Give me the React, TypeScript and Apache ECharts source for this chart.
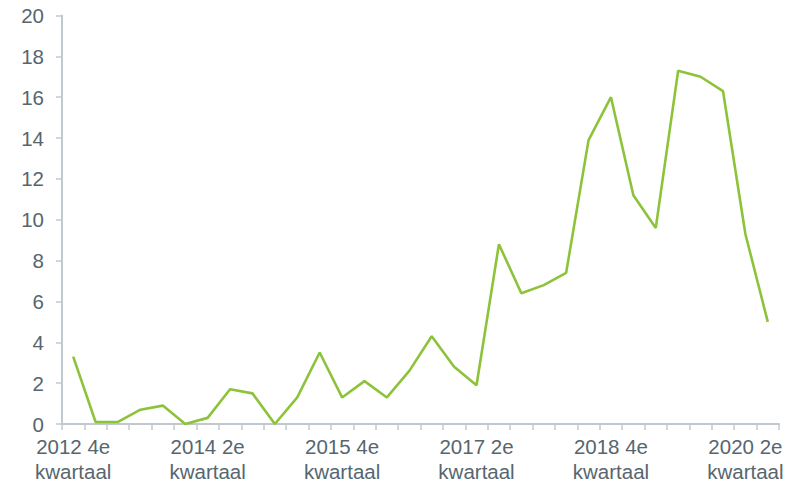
import React, { useEffect, useRef } from "react";
import * as echarts from "echarts";

const quarters: string[] = [
  "2012 4e kwartaal",
  "2013 1e kwartaal", "2013 2e kwartaal", "2013 3e kwartaal", "2013 4e kwartaal",
  "2014 1e kwartaal", "2014 2e kwartaal", "2014 3e kwartaal", "2014 4e kwartaal",
  "2015 1e kwartaal", "2015 2e kwartaal", "2015 3e kwartaal", "2015 4e kwartaal",
  "2016 1e kwartaal", "2016 2e kwartaal", "2016 3e kwartaal", "2016 4e kwartaal",
  "2017 1e kwartaal", "2017 2e kwartaal", "2017 3e kwartaal", "2017 4e kwartaal",
  "2018 1e kwartaal", "2018 2e kwartaal", "2018 3e kwartaal", "2018 4e kwartaal",
  "2019 1e kwartaal", "2019 2e kwartaal", "2019 3e kwartaal", "2019 4e kwartaal",
  "2020 1e kwartaal", "2020 2e kwartaal", "2020 3e kwartaal",
];

const values: number[] = [
  3.3, 0.1, 0.1, 0.7, 0.9, 0.0, 0.3, 1.7, 1.5, 0.0, 1.3, 3.5, 1.3, 2.1, 1.3, 2.6,
  4.3, 2.8, 1.9, 8.8, 6.4, 6.8, 7.4, 13.9, 16.0, 11.2, 9.6, 17.3, 17.0, 16.3, 9.3, 5.0,
];

const axisColor = "#C0C9CD";
const textColor = "#56666F";
const lineColor = "#8DC33A";

export default function App() {
  const ref = useRef<HTMLDivElement>(null);
  useEffect(() => {
    if (!ref.current) return;
    const chart = echarts.init(ref.current, null, { renderer: "svg" });
    chart.setOption({
      animation: false,
      grid: { left: 62, right: 11, top: 15.5, bottom: 64, containLabel: false },
      xAxis: {
        type: "category",
        data: quarters,
        boundaryGap: true,
        axisLine: { show: true, lineStyle: { color: axisColor, width: 2 } },
        axisTick: { show: true, interval: 0, length: 6, lineStyle: { color: axisColor, width: 1.5 } },
        axisLabel: {
          interval: 5,
          margin: 10,
          color: textColor,
          fontFamily: "Liberation Sans, Arial, sans-serif",
          fontSize: 20.5,
          lineHeight: 25,
          formatter: (v: string) => v.replace(" kwartaal", "\nkwartaal"),
        },
        splitLine: { show: false },
      },
      yAxis: {
        type: "value",
        min: 0,
        max: 20,
        interval: 2,
        axisLine: { show: true, lineStyle: { color: axisColor, width: 2 } },
        axisTick: { show: true, length: 6, lineStyle: { color: axisColor, width: 1.5 } },
        axisLabel: {
          margin: 18,
          color: textColor,
          fontFamily: "Liberation Sans, Arial, sans-serif",
          fontSize: 20.5,
        },
        splitLine: { show: false },
      },
      series: [
        {
          type: "line",
          data: values,
          symbol: "none",
          lineStyle: { color: lineColor, width: 2.6 },
          itemStyle: { color: lineColor },
        },
      ],
    });
    return () => chart.dispose();
  }, []);
  return <div ref={ref} style={{ width: 790, height: 488, position: "absolute", left: 0, top: 0 }} />;
}
